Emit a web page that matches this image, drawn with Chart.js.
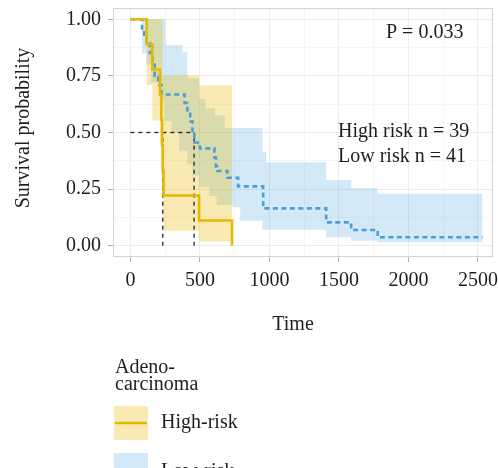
<!DOCTYPE html>
<html><head><meta charset="utf-8">
<script src="https://cdn.jsdelivr.net/npm/chart.js@4/dist/chart.umd.min.js"></script>
<style>html,body{margin:0;padding:0;background:#fff}canvas{display:block}</style>
</head><body>
<canvas id="c" width="498" height="468"></canvas>
<script>
// ---- data ----
const xTicks = [0, 500, 1000, 1500, 2000, 2500];
const xMinor = [250, 750, 1250, 1750, 2250];
const yTicks = [0, 0.25, 0.5, 0.75, 1];
const yMinor = [0.125, 0.375, 0.625, 0.875];

// High risk KM curve
const highTime = [0, 117, 158, 213, 223, 228, 233, 238, 494, 731];
const highSurv = [1, 0.889, 0.778, 0.667, 0.556, 0.444, 0.333, 0.222, 0.111, 0];
const highUpper = [1, 1, 1, 1, 1, 1, 0.752, 0.752, 0.708, 0.708];
const highLower = [1, 0.71, 0.553, 0.45, 0.33, 0.22, 0.12, 0.066, 0.018, 0.018];

// Low risk KM curve
const lowTime = [0, 84, 100, 115, 140, 160, 175, 200, 225, 390, 410, 430, 446, 460, 500, 604, 615, 626, 698, 775, 955, 1408, 1588, 1779, 2533];
const lowSurv = [1, 0.95, 0.925, 0.90, 0.85, 0.80, 0.75, 0.71, 0.668, 0.63, 0.59, 0.55, 0.50, 0.456, 0.43, 0.39, 0.35, 0.33, 0.30, 0.262, 0.165, 0.103, 0.069, 0.037, 0.037];
const lowBandTime = [0, 84, 115, 150, 210, 245, 254, 295, 350, 375, 410, 446, 494, 540, 568, 610, 620, 680, 735, 790, 950, 976, 1408, 1588, 1779, 2533];
const lowUpper = [1, 1, 1, 1, 1, 1, 0.885, 0.885, 0.885, 0.855, 0.74, 0.74, 0.649, 0.606, 0.606, 0.575, 0.575, 0.52, 0.52, 0.52, 0.413, 0.369, 0.29, 0.254, 0.229, 0.229];
const lowLower = [1, 0.85, 0.80, 0.72, 0.64, 0.55, 0.55, 0.50, 0.42, 0.42, 0.36, 0.31, 0.26, 0.26, 0.22, 0.22, 0.18, 0.18, 0.17, 0.11, 0.07, 0.07, 0.037, 0.022, 0.015, 0.015];

// Median survival times
const medianTimes = [233, 458];
const medianLevel = 0.5;

const pText = 'P = 0.033';
const nTexts = ['High risk n = 39', 'Low risk n = 41'];
const legendTitle = ['Adeno-', 'carcinoma'];
const legendLabels = ['High-risk', 'Low-risk'];

// ---- styles ----
const FONT = "'Liberation Serif', 'Times New Roman', serif";
const YELLOW = '#E7B800';
const BLUE = '#4C9FD6';
const YELLOW_FILL = 'rgba(231,184,0,0.30)';
const BLUE_FILL = 'rgba(46,150,215,0.21)';
const TXT = '#1e1e1e';

const pts = (xs, ys) => xs.map((x, i) => ({x: x, y: ys[i]}));

Chart.defaults.font.family = FONT;

const decor = {
  id: 'decor',
  afterDraw(chart) {
    const ctx = chart.ctx, a = chart.chartArea;
    ctx.save();
    ctx.strokeStyle = '#d4d4d4';
    ctx.lineWidth = 1;
    ctx.strokeRect(a.left + 0.5, a.top + 0.5, a.right - a.left - 1, a.bottom - a.top - 1);
    ctx.fillStyle = TXT;
    ctx.font = '20px ' + FONT;
    ctx.textBaseline = 'middle';
    ctx.textAlign = 'left';
    ctx.fillText(pText, 386, 33);
    ctx.fillText(nTexts[0], 338, 132);
    ctx.fillText(nTexts[1], 338, 157);
    // axis titles
    ctx.textAlign = 'center';
    ctx.fillText('Time', 293, 325);
    ctx.save();
    ctx.translate(24, 128);
    ctx.rotate(-Math.PI / 2);
    ctx.fillText('Survival probability', 0, 0);
    ctx.restore();
    // legend
    ctx.textAlign = 'left';
    ctx.fillText(legendTitle[0], 115, 368);
    ctx.fillText(legendTitle[1], 115, 385);
    // key 1
    ctx.fillStyle = YELLOW_FILL;
    ctx.fillRect(114, 406, 34, 34);
    ctx.strokeStyle = YELLOW; ctx.lineWidth = 2.5;
    ctx.beginPath(); ctx.moveTo(115, 423); ctx.lineTo(147, 423); ctx.stroke();
    ctx.fillStyle = TXT;
    ctx.fillText(legendLabels[0], 161, 423);
    // key 2
    ctx.fillStyle = BLUE_FILL;
    ctx.fillRect(114, 453, 34, 34);
    ctx.strokeStyle = BLUE; ctx.setLineDash([5, 3.5]);
    ctx.beginPath(); ctx.moveTo(115, 470); ctx.lineTo(147, 470); ctx.stroke();
    ctx.setLineDash([]);
    ctx.fillStyle = TXT;
    ctx.fillText(legendLabels[1], 161, 472);
    ctx.restore();
  }
};

const isMajor = (arr, v) => arr.some(t => Math.abs(t - v) < 1e-9);

new Chart(document.getElementById('c'), {
  type: 'line',
  data: {
    datasets: [
      {data: pts(highTime, highSurv), borderColor: YELLOW, borderWidth: 2.6, stepped: 'before', pointRadius: 0, fill: false, order: 0},
      {data: pts(lowTime, lowSurv), borderColor: BLUE, borderWidth: 2.6, borderDash: [5, 3.5], stepped: 'before', pointRadius: 0, fill: false, order: 0},
      {data: [{x: 0, y: medianLevel}, {x: medianTimes[1], y: medianLevel}], borderColor: '#222', borderWidth: 1.3, borderDash: [4, 4], pointRadius: 0, fill: false, order: 0},
      {data: [{x: medianTimes[0], y: 0}, {x: medianTimes[0], y: medianLevel}], borderColor: '#222', borderWidth: 1.3, borderDash: [4, 4], pointRadius: 0, fill: false, order: 0},
      {data: [{x: medianTimes[1], y: 0}, {x: medianTimes[1], y: medianLevel}], borderColor: '#222', borderWidth: 1.3, borderDash: [4, 4], pointRadius: 0, fill: false, order: 0},
      {data: pts(lowBandTime, lowUpper), borderWidth: 0, borderColor: 'rgba(0,0,0,0)', backgroundColor: BLUE_FILL, stepped: 'before', pointRadius: 0, fill: '+1', order: 6},
      {data: pts(lowBandTime, lowLower), borderWidth: 0, borderColor: 'rgba(0,0,0,0)', stepped: 'before', pointRadius: 0, fill: false, order: 6},
      {data: pts(highTime, highUpper), borderWidth: 0, borderColor: 'rgba(0,0,0,0)', backgroundColor: YELLOW_FILL, stepped: 'before', pointRadius: 0, fill: '+1', order: 5},
      {data: pts(highTime, highLower), borderWidth: 0, borderColor: 'rgba(0,0,0,0)', stepped: 'before', pointRadius: 0, fill: false, order: 5}
    ]
  },
  options: {
    responsive: false,
    animation: false,
    events: [],
    layout: {padding: {top: 8, right: 5, left: 0, bottom: 0}},
    plugins: {legend: {display: false}, tooltip: {enabled: false}, filler: {drawTime: 'beforeDatasetsDraw'}},
    scales: {
      x: {
        type: 'linear', min: -125, max: 2608,
        afterBuildTicks: s => { s.ticks = xTicks.concat(xMinor).sort((a, b) => a - b).map(v => ({value: v})); },
        afterFit: s => { s.height = 211; s.paddingLeft = 0; s.paddingRight = 0; },
        border: {display: false},
        grid: {
          color: c => isMajor(xTicks, c.tick.value) ? '#ececec' : '#f6f6f6',
          tickColor: c => isMajor(xTicks, c.tick.value) ? '#b0b0b0' : 'rgba(0,0,0,0)',
          tickLength: 5, lineWidth: 1
        },
        ticks: {
          autoSkip: false, maxRotation: 0, padding: 7, color: TXT,
          font: {size: 20, family: FONT},
          callback: v => isMajor(xTicks, v) ? String(v) : ''
        }
      },
      y: {
        type: 'linear', min: -0.05, max: 1.05,
        afterBuildTicks: s => { s.ticks = yTicks.concat(yMinor).sort((a, b) => a - b).map(v => ({value: v})); },
        afterFit: s => { s.width = 113; s.paddingTop = 0; s.paddingBottom = 0; },
        border: {display: false},
        grid: {
          color: c => isMajor(yTicks, c.tick.value) ? '#ececec' : '#f6f6f6',
          tickColor: c => isMajor(yTicks, c.tick.value) ? '#b0b0b0' : 'rgba(0,0,0,0)',
          tickLength: 5, lineWidth: 1
        },
        ticks: {
          autoSkip: false, padding: 7, color: TXT,
          font: {size: 20, family: FONT},
          callback: v => isMajor(yTicks, v) ? v.toFixed(2) : ''
        }
      }
    }
  },
  plugins: [decor]
});
</script>
</body></html>
